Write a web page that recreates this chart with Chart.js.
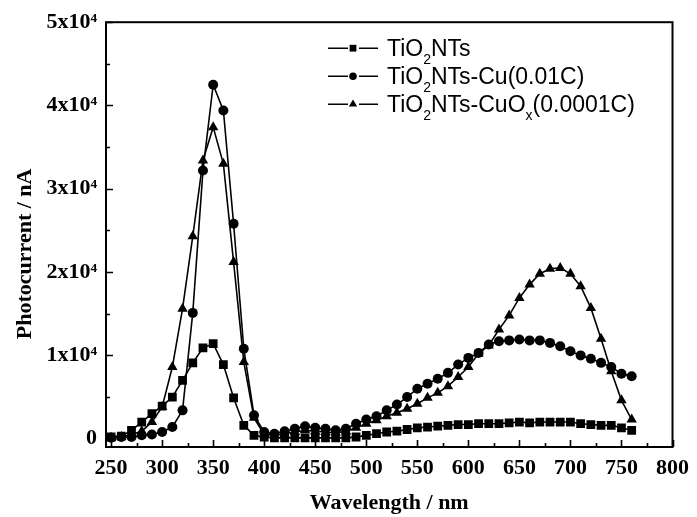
<!DOCTYPE html>
<html><head><meta charset="utf-8">
<script src="https://cdn.jsdelivr.net/npm/chart.js@4/dist/chart.umd.min.js"></script>
<style>html,body{margin:0;padding:0;background:#fff;} #wrap{width:697px;height:517px;}</style>
</head><body>
<div id="wrap"><canvas id="c" width="697" height="517"></canvas></div>
<script>
const wavelengths = [250,260,270,280,290,300,310,320,330,340,350,360,370,380,390,400,410,420,430,440,450,460,470,480,490,500,510,520,530,540,550,560,570,580,590,600,610,620,630,640,650,660,670,680,690,700,710,720,730,740,750,760];
const tio2NTs = [200,300,1000,2000,3000,3900,5000,7000,9100,10900,11400,8900,4900,1600,400,200,100,100,100,100,100,100,100,100,200,400,600,800,900,1100,1300,1400,1500,1600,1700,1700,1800,1800,1800,1900,2000,1900,2000,2000,2000,2000,1800,1700,1600,1600,1300,1000];
const tio2Cu = [100,200,200,400,500,800,1400,3400,15100,32200,42500,39400,25800,10800,2800,800,600,900,1200,1500,1300,1200,1000,1200,1800,2300,2700,3400,4100,5000,6000,6600,7200,7900,8900,9700,10300,11300,11700,11800,11900,11800,11800,11500,11100,10500,10000,9600,9100,8600,7800,7500];
const tio2CuOx = [100,200,500,900,2000,3800,8600,15600,24300,33400,37400,33000,21200,9200,2500,500,400,600,800,1000,900,800,700,900,1300,1800,2200,2700,3100,3600,4200,4900,5500,6300,7400,8600,10200,11200,13100,14800,16900,18500,19800,20400,20500,19800,18300,15700,12000,8100,4600,2300];
const seriesLabels = ['TiO₂NTs', 'TiO₂NTs-Cu(0.01C)', 'TiO₂NTs-CuOₓ(0.0001C)'];
const pointStyles = ['rect', 'circle', 'triangle'];
const xTicks = [250,300,350,400,450,500,550,600,650,700,750,800];
const yTicks = [0,10000,20000,30000,40000,50000];
const yTickLabels = ['0','1x10⁴','2x10⁴','3x10⁴','4x10⁴','5x10⁴'];
const xTitle = 'Wavelength / nm';
const yTitle = 'Photocurrent / nA';

const toPoints = arr => arr.map((v, i) => ({x: wavelengths[i], y: v}));
const radii = [6.2, 5.0, 6.0];

const framePlugin = {
  id: 'frame',
  afterDatasetsDraw(chart) {
    const {ctx, chartArea: a, scales: {x, y}} = chart;
    ctx.save();
    ctx.strokeStyle = '#000';
    ctx.lineWidth = 1.6;
    ctx.beginPath();
    xTicks.forEach((v, i) => {
      const px = Math.round(x.getPixelForValue(v)) + 0.5;
      ctx.moveTo(px, a.bottom); ctx.lineTo(px, a.bottom - 7);
      if (i < xTicks.length - 1) {
        const m = Math.round(x.getPixelForValue((v + xTicks[i + 1]) / 2)) + 0.5;
        ctx.moveTo(m, a.bottom); ctx.lineTo(m, a.bottom - 4);
      }
    });
    yTicks.forEach((v, i) => {
      const py = Math.round(y.getPixelForValue(v)) + 0.5;
      ctx.moveTo(a.left, py); ctx.lineTo(a.left + 7, py);
      if (i < yTicks.length - 1) {
        const m = Math.round(y.getPixelForValue((v + yTicks[i + 1]) / 2)) + 0.5;
        ctx.moveTo(a.left, m); ctx.lineTo(a.left + 4, m);
      }
    });
    ctx.stroke();
    ctx.lineWidth = 2;
    ctx.strokeRect(a.left, a.top, a.right - a.left, a.bottom - a.top);
    ctx.restore();
  }
};

const legendPlugin = {
  id: 'customLegend',
  afterDraw(chart) {
    const {ctx, chartArea: a} = chart;
    const subMap = {'₂': '2', 'ₓ': 'x'};
    const lx0 = a.left + 222, lx1 = a.left + 272, mx = a.left + 247, tx0 = a.left + 281;
    const rowYs = [a.top + 26, a.top + 54, a.top + 82];
    ctx.save();
    ctx.fillStyle = '#000'; ctx.strokeStyle = '#000';
    seriesLabels.forEach((label, i) => {
      const ry = rowYs[i];
      ctx.lineWidth = 1.5;
      ctx.beginPath();
      ctx.moveTo(lx0, ry); ctx.lineTo(mx - 5, ry);
      ctx.moveTo(mx + 6, ry); ctx.lineTo(lx1, ry);
      ctx.stroke();
      Chart.helpers.drawPoint(ctx, {pointStyle: pointStyles[i], radius: i === 1 ? 3.8 : 4.8, rotation: 0, borderWidth: 0}, mx, ry);
      let tx = tx0;
      const base = ry + 8;
      ctx.textBaseline = 'alphabetic';
      ctx.textAlign = 'left';
      let run = '';
      const flush = () => {
        if (!run) return;
        ctx.font = '23px "Liberation Sans", Arial, sans-serif';
        ctx.fillText(run, tx, base);
        tx += ctx.measureText(run).width;
        run = '';
      };
      for (const ch of label) {
        if (subMap[ch]) {
          flush();
          ctx.font = '14px "Liberation Sans", Arial, sans-serif';
          ctx.fillText(subMap[ch], tx, base + 8);
          tx += ctx.measureText(subMap[ch]).width;
        } else {
          run += ch;
        }
      }
      flush();
    });
    ctx.restore();
  }
};

const serifBold = {family: '"Liberation Serif", "Times New Roman", serif', weight: 'bold', size: 22};

new Chart(document.getElementById('c'), {
  type: 'line',
  data: {
    datasets: [tio2NTs, tio2Cu, tio2CuOx].map((arr, i) => ({
      label: seriesLabels[i],
      data: toPoints(arr),
      borderColor: '#000',
      backgroundColor: '#000',
      borderWidth: 1.6,
      pointStyle: pointStyles[i],
      pointRadius: radii[i],
      pointBorderWidth: 0,
      pointBackgroundColor: '#000',
      tension: 0,
      fill: false
    }))
  },
  options: {
    responsive: false,
    animation: false,
    devicePixelRatio: 1,
    layout: {padding: {top: 21, right: 18, bottom: 0, left: 0}},
    plugins: {legend: {display: false}, tooltip: {enabled: false}},
    scales: {
      x: {
        type: 'linear', min: 245, max: 800,
        afterBuildTicks: s => { s.ticks = xTicks.map(v => ({value: v})); },
        afterFit: s => { s.height = 70; },
        grid: {display: false, drawTicks: false},
        border: {display: false},
        ticks: {color: '#000', font: serifBold, padding: 8, maxRotation: 0, autoSkip: false},
        title: {display: true, text: xTitle, color: '#000', font: serifBold, padding: {top: 0, bottom: 0}}
      },
      y: {
        type: 'linear', min: -1000, max: 50000,
        afterBuildTicks: s => { s.ticks = yTicks.map(v => ({value: v})); },
        afterFit: s => { s.width = 106; },
        grid: {display: false, drawTicks: false},
        border: {display: false},
        ticks: {color: '#000', font: serifBold, padding: 9, autoSkip: false,
          callback: v => { const i = yTicks.indexOf(v); return i >= 0 ? yTickLabels[i] : ''; }},
        title: {display: true, text: yTitle + '       ', color: '#000', font: serifBold, padding: {top: 12, bottom: 0}}
      }
    }
  },
  plugins: [framePlugin, legendPlugin]
});
</script>
</body></html>
